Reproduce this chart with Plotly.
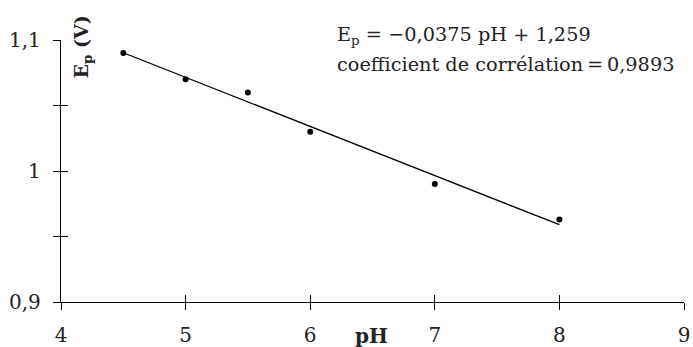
import plotly.graph_objects as go

ph = [4.5, 5, 5.5, 6, 7, 8]
ep = [1.090, 1.070, 1.060, 1.030, 0.990, 0.963]
slope = -0.0375
intercept = 1.259
fit_x = [4.5, 8]
fit_y = [slope * v + intercept for v in fit_x]

x_tick_vals = [4, 5, 6, 7, 8, 9]
x_tick_text = ["4", "5", "6", "7", "8", "9"]
y_tick_vals = [0.9, 0.95, 1.0, 1.05, 1.1]
y_tick_text = ["0,9", "", "1", "", "1,1"]

FONT = "DejaVu Serif"

fig = go.Figure()
fig.add_trace(go.Scatter(x=fit_x, y=fit_y, mode="lines",
                         line=dict(color="black", width=1.3), showlegend=False))
fig.add_trace(go.Scatter(x=ph, y=ep, mode="markers",
                         marker=dict(color="black", size=6), showlegend=False))
# dummy trace for overlay axes (inside ticks)
fig.add_trace(go.Scatter(x=[None], y=[None], xaxis="x2", yaxis="y2",
                         showlegend=False, hoverinfo="skip"))

axis_common = dict(showgrid=False, zeroline=False, showline=True,
                   linecolor="black", linewidth=1.3, tickcolor="black",
                   tickwidth=1.3, ticklen=7, automargin=False)

fig.update_layout(
    width=693, height=347,
    margin=dict(l=61, r=9, t=40, b=45),
    paper_bgcolor="white", plot_bgcolor="white",
    font=dict(family=FONT, size=20, color="#222"),
    xaxis=dict(range=[4, 9], tickvals=x_tick_vals, ticktext=x_tick_text,
               ticks="outside", tickfont=dict(size=20), ticklabelstandoff=8,
               **axis_common),
    yaxis=dict(range=[0.9, 1.1], tickvals=y_tick_vals, ticktext=y_tick_text,
               ticks="outside", tickfont=dict(size=20), ticklabelstandoff=8,
               **axis_common),
    xaxis2=dict(range=[4, 9], tickvals=x_tick_vals, ticks="inside",
                showticklabels=False, overlaying="x", anchor="y2", **axis_common),
    yaxis2=dict(range=[0.9, 1.1], tickvals=y_tick_vals, ticks="inside",
                showticklabels=False, overlaying="y", anchor="x2", **axis_common),
    annotations=[
        dict(text="<b>pH</b>", xref="paper", yref="paper", x=0.499, y=0,
             yshift=-34, xanchor="center", yanchor="middle", showarrow=False,
             font=dict(size=20)),
        dict(text="<b>E<sub>p</sub> (V)</b>", xref="paper", yref="paper",
             x=0.034, y=1.1, xanchor="center", yanchor="top", textangle=-90,
             showarrow=False, font=dict(size=19)),
        dict(text="E<sub>p</sub> = \u22120,0375 pH + 1,259", xref="paper", yref="paper",
             x=0.44, y=1.019, xanchor="left", yanchor="middle", showarrow=False,
             font=dict(size=19.3)),
        dict(text="coefficient de corrélation\u2009=\u20090,9893", xref="paper", yref="paper",
             x=0.44, y=0.905, xanchor="left", yanchor="middle", showarrow=False,
             font=dict(size=19.3)),
    ],
)

fig.write_html("out.html", config={"displayModeBar": False},
               post_script="document.body.style.margin='0';document.body.style.overflow='hidden';")
